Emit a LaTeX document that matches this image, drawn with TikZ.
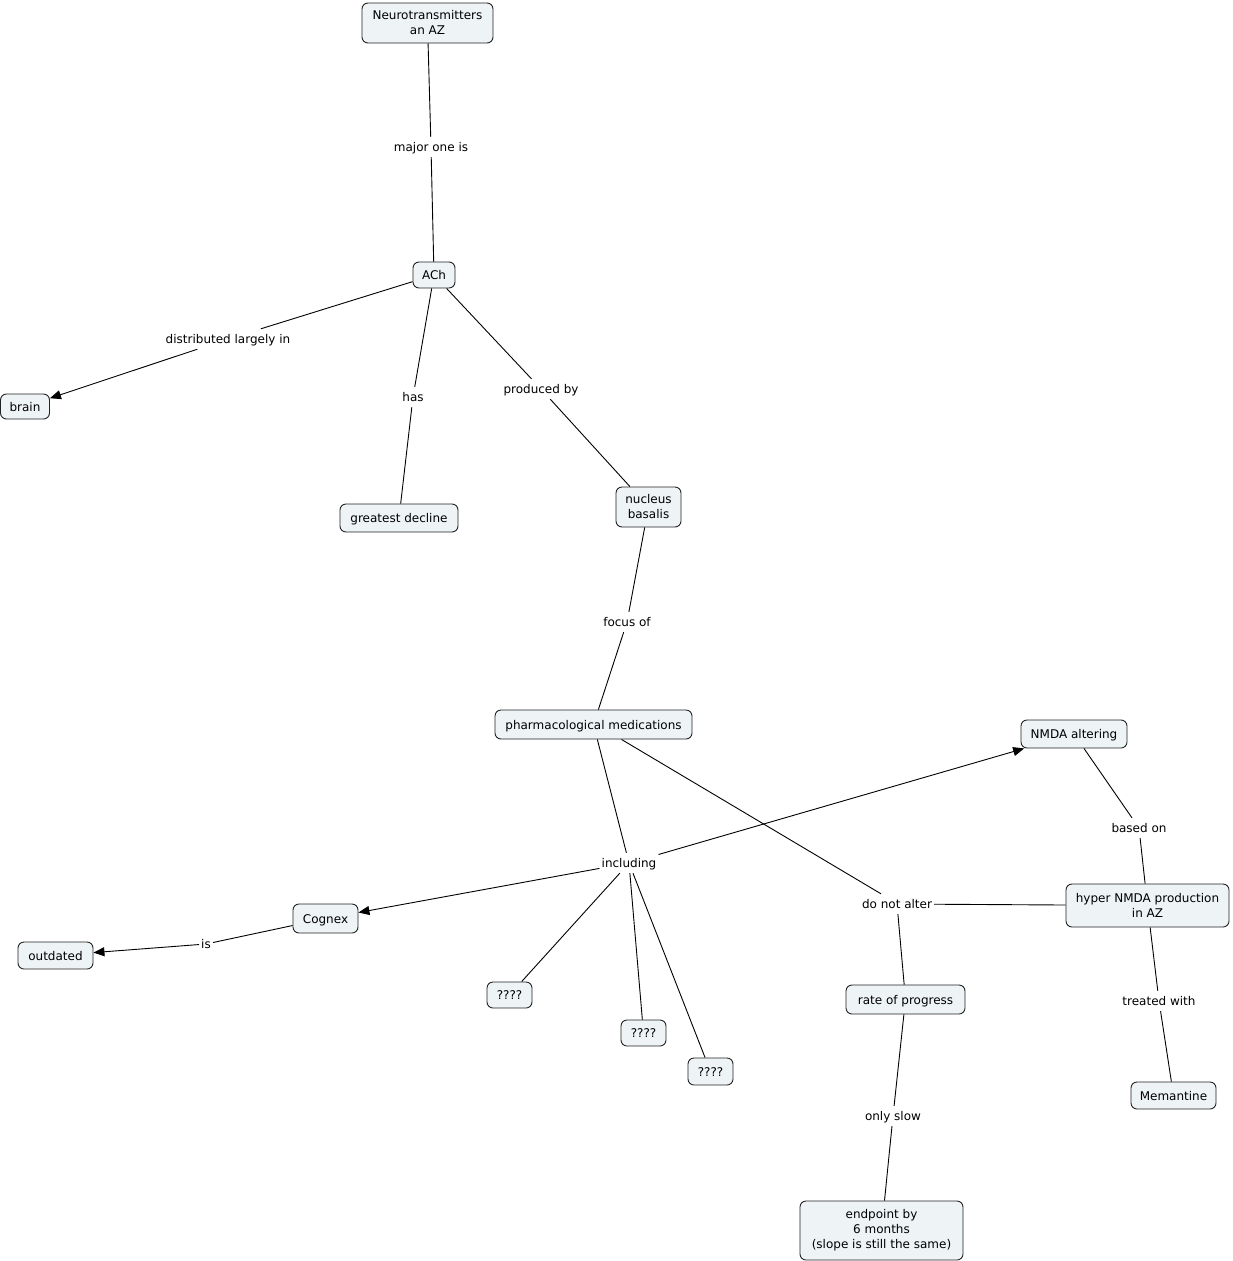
\documentclass[tikz,border=0pt]{standalone}
\usepackage{fontspec}
\setmainfont{DejaVu Sans}
\usetikzlibrary{arrows.meta}
\definecolor{boxfill}{RGB}{238,243,246}
\definecolor{boxline}{RGB}{35,35,35}
\begin{document}
\begin{tikzpicture}[x=1pt,y=-1pt,
  concept/.style={draw=boxline, fill=boxfill, rounded corners=6pt, line width=0.9pt, align=center, font=\fontsize{12}{15}\selectfont, inner sep=0pt},
  one/.style={text height=10.5pt, text depth=1.5pt},
  lbl/.style={font=\fontsize{12}{15}\selectfont, inner xsep=2pt, inner ysep=4pt, text height=10.5pt, text depth=1.5pt},
  conn/.style={draw=black, line width=0.9pt},
  arr/.style={conn, -{Triangle[length=11pt,width=9pt]}}
]
\useasboundingbox (0,0) rectangle (1232,1261);
% concepts
\node[concept, minimum width=131pt, minimum height=40pt] (neuro) at (427.5,23) {Neurotransmitters\\an AZ};
\node[concept, one, minimum width=42pt, minimum height=26pt] (ach) at (434,275) {ACh};
\node[concept, one, minimum width=49pt, minimum height=25pt] (brain) at (25,406.5) {brain};
\node[concept, one, minimum width=118pt, minimum height=28pt] (decline) at (399,518) {greatest decline};
\node[concept, minimum width=65pt, minimum height=40pt] (nucleus) at (648.5,507) {nucleus\\basalis};
\node[concept, one, minimum width=197pt, minimum height=29pt] (pharma) at (593.5,724.5) {pharmacological medications};
\node[concept, one, minimum width=106pt, minimum height=28pt] (nmda) at (1074,734) {NMDA altering};
\node[concept, one, minimum width=65pt, minimum height=29pt] (cognex) at (325.5,918.5) {Cognex};
\node[concept, one, minimum width=75pt, minimum height=27pt] (outdated) at (55.5,955.5) {outdated};
\node[concept, one, minimum width=45pt, minimum height=26pt] (q1) at (509.5,995) {????};
\node[concept, one, minimum width=45pt, minimum height=26pt] (q2) at (643.5,1033) {????};
\node[concept, one, minimum width=45pt, minimum height=27pt] (q3) at (710.5,1071.5) {????};
\node[concept, one, minimum width=119pt, minimum height=29pt] (rate) at (905.5,999.5) {rate of progress};
\node[concept, minimum width=163pt, minimum height=43pt] (hyper) at (1147.5,905.5) {hyper NMDA production\\in AZ};
\node[concept, one, minimum width=85pt, minimum height=27pt] (meman) at (1173.5,1095.5) {Memantine};
\node[concept, minimum width=163pt, minimum height=59pt] (endpoint) at (881.5,1230.5) {endpoint by\\6 months\\(slope is still the same)};
% linking phrases
\node[lbl] (lmajor) at (431,147) {major one is};
\node[lbl] (ldist) at (228,339) {distributed largely in};
\node[lbl] (lhas) at (413,397) {has};
\node[lbl] (lprod) at (541,389) {produced by};
\node[lbl] (lfocus) at (627,622) {focus of};
\node[lbl] (lincl) at (629,863) {including};
\node[lbl] (ldna) at (897,904) {do not alter};
\node[lbl] (lbased) at (1139,828) {based on};
\node[lbl] (ltreat) at (1159,1001) {treated with};
\node[lbl] (lis) at (206,944) {is};
\node[lbl] (lslow) at (893,1116) {only slow};
% connectors
\draw[conn] (neuro) -- (lmajor);
\draw[conn] (lmajor) -- (ach);
\draw[conn] (ach) -- (ldist);
\draw[arr] (ldist) -- (brain);
\draw[conn] (ach) -- (lhas);
\draw[conn] (lhas) -- (decline);
\draw[conn] (ach) -- (lprod);
\draw[conn] (lprod) -- (nucleus);
\draw[conn] (nucleus) -- (lfocus);
\draw[conn] (lfocus) -- (pharma);
\draw[conn] (pharma) -- (lincl);
\draw[arr] (lincl) -- (cognex);
\draw[arr] (lincl) -- (nmda);
\draw[conn] (lincl) -- (q1);
\draw[conn] (lincl) -- (q2);
\draw[conn] (lincl) -- (q3);
\draw[conn] (cognex) -- (lis);
\draw[arr] (lis) -- (outdated);
\draw[conn] ([xshift=28pt]pharma.south) -- ([xshift=-16pt]ldna.north);
\draw[conn] (hyper) -- (ldna);
\draw[conn] (ldna) -- (rate);
\draw[conn] (rate) -- (lslow);
\draw[conn] (lslow) -- (endpoint);
\draw[conn] (nmda) -- (lbased);
\draw[conn] (lbased) -- (hyper);
\draw[conn] (hyper) -- (ltreat);
\draw[conn] (ltreat) -- (meman);
\end{tikzpicture}
\end{document}
